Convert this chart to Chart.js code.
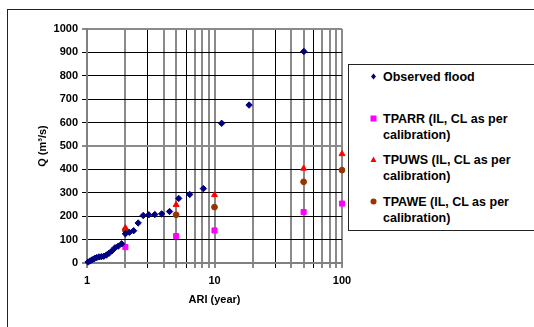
<!DOCTYPE html>
<html><head><meta charset="utf-8">
<script src="https://cdn.jsdelivr.net/npm/chart.js@4/dist/chart.umd.min.js"></script>
<style>
body{margin:0;background:#fff;}
#wrap{position:relative;width:534px;height:327px;overflow:hidden;font-family:"Liberation Sans",Arial,sans-serif;background:#fff;}
#frame{position:absolute;left:7px;top:9px;width:600px;height:400px;border:1px solid #222;box-sizing:border-box;}
canvas{position:absolute;left:0;top:0;}
#legend{position:absolute;left:348px;top:64px;width:300px;height:167px;border:1px solid #222;box-sizing:border-box;background:#fff;}
.item{position:absolute;left:34px;font-weight:bold;font-size:12.5px;line-height:16px;color:#000;white-space:nowrap;}
.mk{position:absolute;left:20px;width:9px;height:9px;}
</style>
</head><body>
<div id="wrap">
  <div id="frame"></div>
  <canvas id="c" width="534" height="327"></canvas>
  <div id="legend">
    <svg class="mk" style="top:7px" viewBox="0 0 9 9"><polygon points="4.5,1.5 7,4.5 4.5,7.5 2,4.5" fill="#000080"/></svg>
    <div class="item" style="top:4px">Observed flood</div>
    <svg class="mk" style="top:49px" viewBox="0 0 9 9"><rect x="1.5" y="1.5" width="6" height="6" fill="#FF00FF"/></svg>
    <div class="item" style="top:46px">TPARR (IL, CL as per<br>calibration)</div>
    <svg class="mk" style="top:90px" viewBox="0 0 9 9"><polygon points="4.5,1.5 7.5,7 1.5,7" fill="#FF0000"/></svg>
    <div class="item" style="top:87px">TPUWS (IL, CL as per<br>calibration)</div>
    <svg class="mk" style="top:132px" viewBox="0 0 9 9"><circle cx="4.5" cy="4.5" r="3" fill="#993300"/></svg>
    <div class="item" style="top:129px">TPAWE (IL, CL as per<br>calibration)</div>
  </div>
</div>
<script>
// ---- data ----
const obsARI = [1.02,1.06,1.10,1.145,1.19,1.24,1.295,1.354,1.419,1.49,1.569,1.658,1.758,1.871,2.0,2.15,2.32,2.52,2.76,3.05,3.40,3.85,4.44,5.24,6.39,8.18,11.38,18.67,50.2];
const obsQ   = [4,9,14,19,23,26,27,29,34,42,52,65,72,82,125,131,138,171,203,206,207,210,220,276,293,318,597,675,904];
const modelARI = [2,5,10,50,100];
const tparrQ = [68,115,139,218,254];
const tpuwsQ = [150,249,291,404,466];
const tpaweQ = [140,206,239,347,397];
const xTickVals = [1,2,3,4,5,6,7,8,9,10,20,30,40,50,60,70,80,90,100];
const xLabelVals = [1,10,100];
const darkX = [3,6,30,60];
const greyY = [0,500,1000];

const pts = (xs, ys) => xs.map((x, i) => ({x: x, y: ys[i]}));
const FONT = {family: '"Liberation Sans", Arial, sans-serif', size: 11, weight: 'bold'};

new Chart(document.getElementById('c'), {
  type: 'scatter',
  data: {
    datasets: [
      {label: 'Observed flood', data: pts(obsARI, obsQ), pointStyle: 'rectRot', pointRadius: 3.2, backgroundColor: '#000080', borderColor: '#000080', borderWidth: 1, clip: false},
      {label: 'TPARR (IL, CL as per calibration)', data: pts(modelARI, tparrQ), pointStyle: 'rect', pointRadius: 3.6, backgroundColor: '#FF00FF', borderColor: '#FF00FF', borderWidth: 1, clip: false},
      {label: 'TPUWS (IL, CL as per calibration)', data: pts(modelARI, tpuwsQ), pointStyle: 'triangle', pointRadius: 3.4, backgroundColor: '#FF0000', borderColor: '#FF0000', borderWidth: 1, clip: false},
      {label: 'TPAWE (IL, CL as per calibration)', data: pts(modelARI, tpaweQ), pointStyle: 'circle', pointRadius: 2.9, backgroundColor: '#993300', borderColor: '#993300', borderWidth: 1, clip: false}
    ]
  },
  options: {
    responsive: false,
    animation: false,
    layout: {padding: {top: 29, right: 192, left: 0, bottom: 0}},
    plugins: {legend: {display: false}, tooltip: {enabled: false}},
    scales: {
      x: {
        type: 'logarithmic', min: 1, max: 100,
        afterBuildTicks: s => { s.ticks = xTickVals.map(v => ({value: v})); },
        afterFit: s => { s.height = 64; },
        border: {color: '#808080', width: 2},
        grid: {
          color: c => darkX.includes(c.tick && c.tick.value) ? '#000' : '#8a8a8a',
          lineWidth: c => darkX.includes(c.tick && c.tick.value) ? 1 : 2,
          tickLength: 5, drawTicks: true
        },
        ticks: {
          autoSkip: false, maxRotation: 0, padding: 6, color: '#000', font: FONT,
          callback: v => xLabelVals.includes(v) ? String(v) : ''
        },
        title: {display: true, text: 'ARI (year)', color: '#000', font: FONT, padding: {top: 0, bottom: 20}}
      },
      y: {
        min: 0, max: 1000,
        afterFit: s => { s.width = 87; },
        border: {color: '#808080', width: 2},
        grid: {
          color: c => greyY.includes(c.tick && c.tick.value) ? '#8a8a8a' : '#000',
          lineWidth: c => greyY.includes(c.tick && c.tick.value) ? 2 : 1,
          tickLength: 5
        },
        ticks: {stepSize: 100, padding: 4, color: '#000', font: FONT, callback: v => String(v)},
        title: {display: true, text: 'Q (m³/s)', color: '#000', font: FONT, padding: {top: 36, bottom: 0}}
      }
    }
  }
});
</script>
</body></html>
